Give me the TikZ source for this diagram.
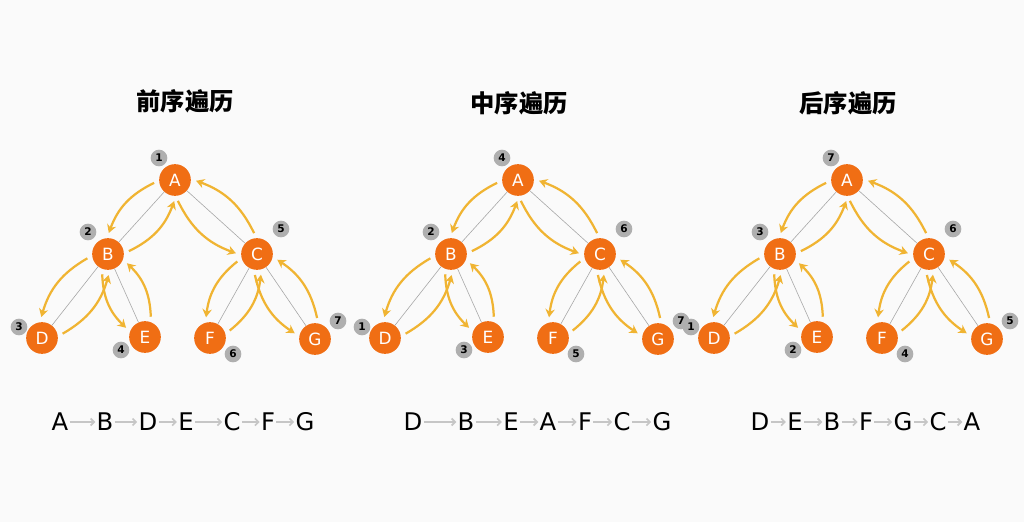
\documentclass[tikz,border=0pt]{standalone}
\usepackage{fontspec}
\setsansfont{DejaVu Sans}
\newfontfamily\cjk{Noto Sans CJK SC}
\usetikzlibrary{calc,arrows.meta}
\definecolor{nodeorange}{RGB}{240,110,20}
\definecolor{tourgold}{RGB}{240,180,50}
\definecolor{badgegray}{RGB}{175,175,175}
\tikzset{
  vert/.style={circle, fill=nodeorange, minimum size=0.95cm, inner sep=0pt, text=white, font=\sffamily\Large},
  badge/.style={circle, fill=badgegray, minimum size=0.5cm, inner sep=0pt, font=\sffamily\small\bfseries},
  link/.style={draw=gray!70, line width=0.5pt},
  tour/.style={draw=tourgold, line width=1.9pt, -{Stealth[length=7pt,width=8pt]}, bend right=22},
  seq/.style={font=\sffamily\huge, inner sep=1pt},
  seqarrow/.style={draw=gray!45, line width=1.4pt, -{Straight Barb[length=3pt]}},
  title/.style={font=\cjk\huge\bfseries}
}
% Euler tour around one edge: down on the one side, back up on the other
\newcommand{\tourpair}[2]{%
  \draw[tour] let \p1=($(#2)-(#1)$), \n1={atan2(\y1,\x1)} in
    ($(#1)+(\n1-40:18pt)$) to ($(#2)+(\n1+220:18pt)$);
  \draw[tour] let \p1=($(#1)-(#2)$), \n1={atan2(\y1,\x1)} in
    ($(#2)+(\n1-40:18pt)$) to ($(#1)+(\n1+220:18pt)$);
}
% one tree: prefix, x shift, badges A..G
\newcommand{\travtree}[9]{%
  \begin{scope}[xshift=#2*0.03cm]
    \node[vert] (#1A) at (175,180) {A};
    \node[vert] (#1B) at (108,254) {B};
    \node[vert] (#1C) at (257,254) {C};
    \node[vert] (#1D) at (42,338) {D};
    \node[vert] (#1E) at (145,337) {E};
    \node[vert] (#1F) at (210,338) {F};
    \node[vert] (#1G) at (315,339) {G};
    \foreach \up/\dn in {A/B,A/C,B/D,B/E,C/F,C/G}
      {\draw[link] (#1\up) -- (#1\dn); \tourpair{#1\up}{#1\dn}}
    \node[badge] (#1nA) at ($(#1A)+(-16,-22)$) {#3};
    \node[badge] (#1nB) at ($(#1B)+(-20,-22)$) {#4};
    \node[badge] (#1nC) at ($(#1C)+(24,-25)$) {#5};
    \node[badge] (#1nD) at ($(#1D)+(-23,-11)$) {#6};
    \node[badge] (#1nE) at ($(#1E)+(-24,13)$) {#7};
    \node[badge] (#1nF) at ($(#1F)+(23,16)$) {#8};
    \node[badge] (#1nG) at ($(#1G)+(23,-18)$) {#9};
  \end{scope}
}
\begin{document}
\begin{tikzpicture}[x=0.03cm, y=-0.03cm]
  \useasboundingbox (0,0) rectangle (1024,522);
  \fill[white!96!gray] (0,0) rectangle (1024,522);

  \node[title] (t1) at (185,101) {前序遍历};
  \node[title] (t2) at (519,103) {中序遍历};
  \node[title] (t3) at (848,103) {后序遍历};

  \travtree{p}{0}{1}{2}{5}{3}{4}{6}{7}
  \travtree{m}{343}{4}{2}{6}{1}{3}{5}{7}
  \travtree{q}{672}{7}{3}{6}{1}{2}{4}{5}

  % visiting orders
  \foreach \pre/\list in {
      a/{60/A,105/B,148/D,186/E,232/C,268/F,305/G},
      b/{413/D,466/B,511/E,548/A,585/F,622/C,662/G},
      c/{760/D,795/E,832/B,866/F,903/G,938/C,972/A}} {
    \foreach \x/\l [count=\i] in \list
      \node[seq] (\pre\i) at (\x,422) {\l};
    \foreach \i [evaluate=\i as \j using int(\i+1)] in {1,...,6}
      \draw[seqarrow] (\pre\i) -- (\pre\j);
  }
\end{tikzpicture}
\end{document}
